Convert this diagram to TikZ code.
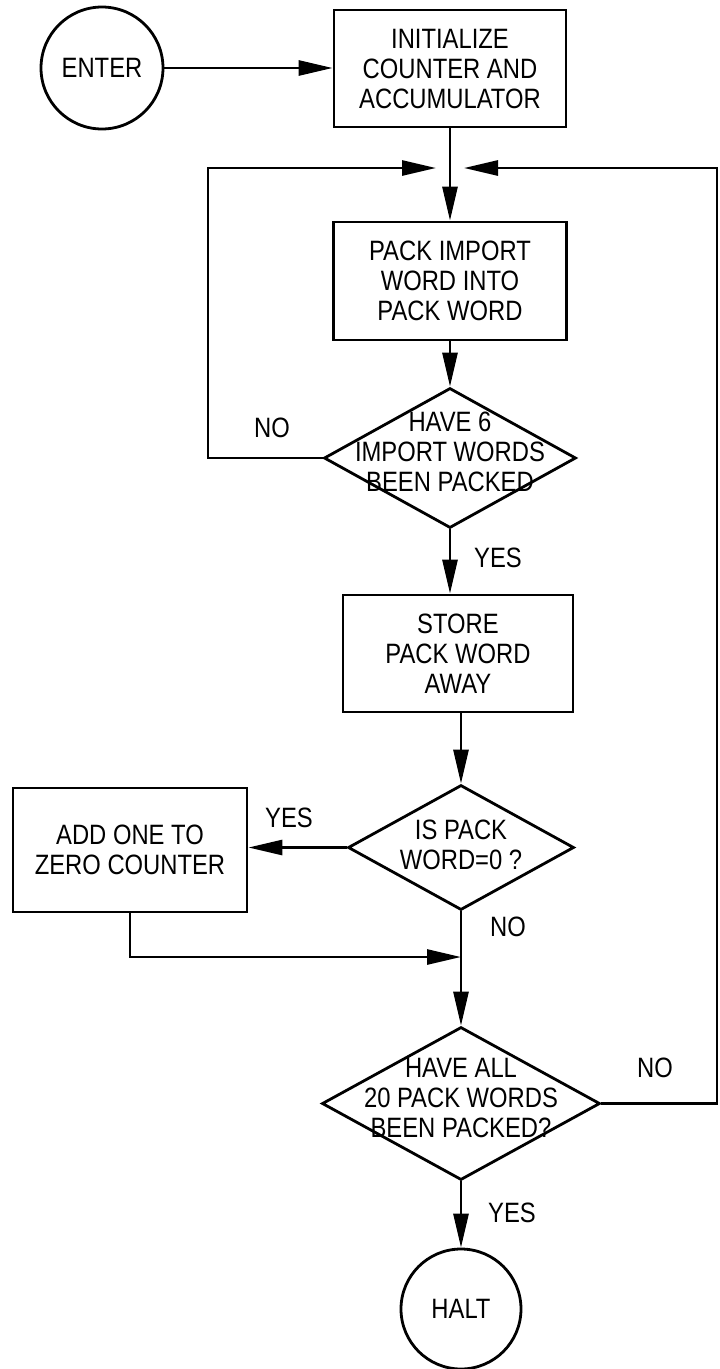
\documentclass[tikz,border=0pt]{standalone}
\usepackage{fontspec}
\setmainfont{Liberation Sans}[FakeStretch=0.85]
\usetikzlibrary{arrows.meta,shapes.geometric}
\begin{document}
\begin{tikzpicture}[x=1pt,y=-1pt, line width=2.8pt,
  font=\fontsize{28}{30}\selectfont,
  box/.style={draw, rectangle, align=center, inner sep=0pt},
  term/.style={draw, circle, minimum size=122pt, inner sep=0pt},
  decision/.style={draw, diamond, inner sep=0pt},
  flow/.style={-{Triangle[length=34pt,width=15pt]}},
  lbl/.style={inner sep=0pt}]
\useasboundingbox (0,0) rectangle (720,1369);

\node[term] (enter) at (102,68) {ENTER};
\node[box, minimum width=232pt, minimum height=117pt] (init) at (450,68.5)
  {INITIALIZE\\COUNTER AND\\ACCUMULATOR};
\node[box, minimum width=233pt, minimum height=118pt] (pack) at (450,281)
  {PACK IMPORT\\WORD INTO\\PACK WORD};
\node[decision, minimum width=252pt, minimum height=140pt,
  label={[align=center,yshift=6pt]center:HAVE 6\\IMPORT WORDS\\BEEN PACKED}] (d1) at (450,458) {};
\node[box, minimum width=230pt, minimum height=117pt] (store) at (458,653.5)
  {STORE\\PACK WORD\\AWAY};
\node[decision, minimum width=226pt, minimum height=125pt,
  label={[align=center,yshift=3pt]center:IS PACK\\WORD=0 ?}] (d2) at (461,847.5) {};
\node[box, minimum width=234pt, minimum height=124pt] (add) at (130,850)
  {ADD ONE TO\\ZERO COUNTER};
\node[decision, minimum width=278pt, minimum height=153pt,
  label={[align=center,yshift=6pt]center:HAVE ALL\\20 PACK WORDS\\BEEN PACKED?}] (d3) at (461,1103.5) {};
\node[term, minimum size=120pt] (halt) at (461,1309) {HALT};

\coordinate (j) at (450,168);
\coordinate (merge) at (461,957);
\coordinate (lc) at (208,168);
\coordinate (rc) at (717,168);

\draw[flow] (enter.east) -- (enter.east -| init.west);
\draw[flow] (init) -- (pack);
\draw[flow] (pack) -- (d1);
\draw[flow, shorten >=14pt] (d1.west) -| (lc) -- (j);
\draw[flow, shorten >=14pt] (d3.east) -| (rc) -- (j);
\draw[flow] (d1.south) -- (d1.south |- store.north);
\draw[flow] (d2.north |- store.south) -- (d2.north);
\draw[flow] (d2.west) -- (d2.west -| add.east);
\draw[flow] (add.south) |- (merge);
\draw[flow] (d2.south) -- (d3.north);
\draw[flow] (d3.south) -- (halt.north);

\node[lbl] (no1) at (272,428) {NO};
\node[lbl] (yes1) at (498,558) {YES};
\node[lbl] (yes2) at (289,818) {YES};
\node[lbl] (no2) at (508,927) {NO};
\node[lbl] (no3) at (655,1068) {NO};
\node[lbl] (yes3) at (512,1213) {YES};
\end{tikzpicture}
\end{document}
